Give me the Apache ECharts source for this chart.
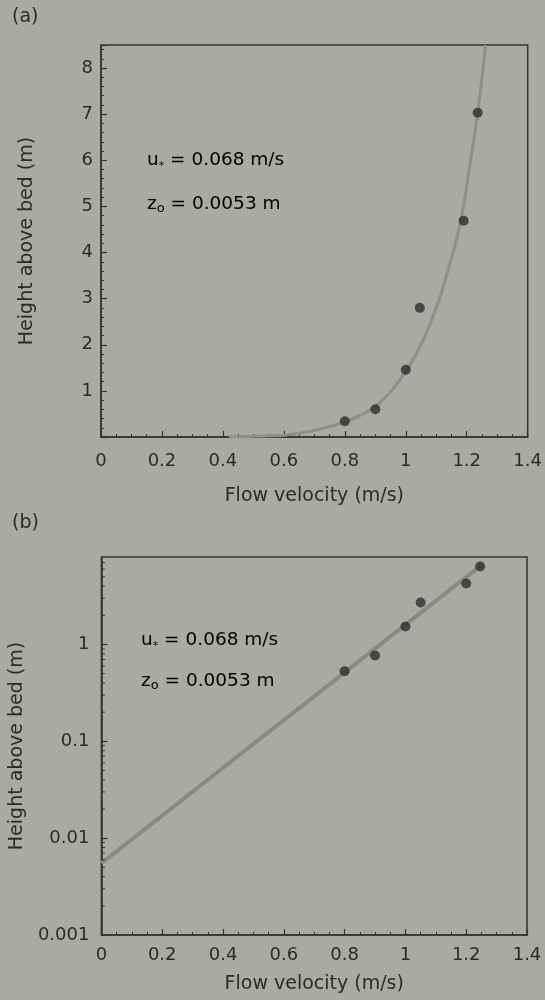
<!DOCTYPE html>
<html><head><meta charset="utf-8">
<script src="https://cdn.jsdelivr.net/npm/echarts@6/dist/echarts.min.js"></script>
<style>html,body{margin:0;padding:0;background:#a8aba4}#c{width:545px;height:1000px}</style>
</head><body><div id="c"></div>
<script>
// ---- Panel (a): linear height axis ----
const velocityA = [0.8, 0.9, 1.0, 1.046, 1.19, 1.236];
const heightA = [0.34, 0.6, 1.46, 2.8, 4.69, 7.03];
const curveVelA = [0.42, 0.5, 0.6, 0.7, 0.8, 0.85, 0.9, 0.95, 1.0, 1.05, 1.1, 1.14, 1.18, 1.21, 1.236, 1.262];
const curveHeightA = [0.0, 0.015, 0.04, 0.14, 0.33, 0.47, 0.66, 0.98, 1.42, 2.0, 2.8, 3.65, 4.67, 5.9, 7.03, 8.5];
// ---- Panel (b): log height axis ----
const velocityB = [0.8, 0.9, 1.0, 1.05, 1.2, 1.246];
const heightB = [0.53, 0.77, 1.53, 2.71, 4.26, 6.37];
const fitVelB = [0, 1.25];
const fitHeightB = [0.0055, 6.6];
const logMinorTicksB = [0.002,0.003,0.004,0.005,0.006,0.007,0.008,0.009,
  0.02,0.03,0.04,0.05,0.06,0.07,0.08,0.09,
  0.2,0.3,0.4,0.5,0.6,0.7,0.8,0.9,
  2,3,4,5,6,7];
const uStarText = '{t|u}{s|*}{t| = 0.068 m/s}';
const z0Text = '{t|z}{o|o}{t| = 0.0053 m}';

const FONT = '"DejaVu Sans", "Liberation Sans", sans-serif';
const INK = '#2b2b2b';
const AXIS = '#333333';
const pairs = (xs, ys) => xs.map((x, i) => [x, ys[i]]);

const xAxisBase = (margin, nameGap) => ({
  type: 'value', min: 0, max: 1.4, interval: 0.2,
  name: 'Flow velocity (m/s)', nameLocation: 'middle', nameGap: nameGap,
  nameTextStyle: {fontFamily: FONT, fontSize: 19, color: INK},
  axisLine: {show: true, lineStyle: {color: AXIS, width: 1.5}},
  axisTick: {show: true, inside: true, length: 6, lineStyle: {color: AXIS, width: 1.2}},
  minorTick: {show: true, splitNumber: 4, length: 3, lineStyle: {color: AXIS, width: 1}},
  axisLabel: {fontFamily: FONT, fontSize: 18, color: INK, margin: margin},
  splitLine: {show: false}
});

const rich = {
  t: {fontFamily: FONT, fontSize: 18.5, color: INK, lineHeight: 22},
  s: {fontFamily: FONT, fontSize: 11, color: INK, verticalAlign: 'bottom', lineHeight: 22},
  o: {fontFamily: FONT, fontSize: 13, color: INK, verticalAlign: 'bottom', lineHeight: 22}
};

const option = {
  backgroundColor: '#a8aba4',
  animation: false,
  grid: [
    {left: 101, top: 45, width: 427, height: 392, show: true, borderColor: AXIS, borderWidth: 1.5, backgroundColor: 'transparent'},
    {left: 99, top: 557, width: 428, height: 378, show: true, borderColor: AXIS, borderWidth: 1.5, backgroundColor: 'transparent'}
  ],
  xAxis: [
    Object.assign(xAxisBase(15, 50), {gridIndex: 0}),
    Object.assign(xAxisBase(11, 40), {gridIndex: 1})
  ],
  yAxis: [
    {
      gridIndex: 0, type: 'value', min: 0, max: 8.5, interval: 1,
      name: 'Height above bed (m)', nameLocation: 'middle', nameGap: 64,
      nameTextStyle: {fontFamily: FONT, fontSize: 19, color: INK},
      axisLine: {show: true, lineStyle: {color: AXIS, width: 1.5}},
      axisTick: {show: true, inside: true, length: 6, lineStyle: {color: AXIS, width: 1.2}},
      minorTick: {show: true, splitNumber: 5, length: 3, lineStyle: {color: AXIS, width: 1}},
      axisLabel: {fontFamily: FONT, fontSize: 18, color: INK, margin: 8, showMinLabel: false, showMaxLabel: false},
      splitLine: {show: false}
    },
    {
      gridIndex: 1, type: 'log', logBase: 10, min: 0.001, max: 8,
      name: 'Height above bed (m)', nameLocation: 'middle', nameGap: 58,
      nameTextStyle: {fontFamily: FONT, fontSize: 19, color: INK},
      axisLine: {show: true, lineStyle: {color: AXIS, width: 1.5}},
      axisTick: {show: true, inside: true, length: 6, lineStyle: {color: AXIS, width: 1.2}},
      minorTick: {show: false},
      axisLabel: {fontFamily: FONT, fontSize: 18, color: INK, margin: 12, showMaxLabel: false,
        formatter: v => String(+(+v).toPrecision(3))},
      splitLine: {show: false}
    }
  ],
  graphic: [
    {type: 'text', left: 12, top: 8, style: {text: '(a)', fontFamily: FONT, fontSize: 19, fill: INK}},
    {type: 'text', left: 12, top: 514, style: {text: '(b)', fontFamily: FONT, fontSize: 19, fill: INK}},
    {type: 'text', left: 147, top: 151, style: {text: uStarText, rich: rich}},
    {type: 'text', left: 147, top: 195, style: {text: z0Text, rich: rich}},
    {type: 'text', left: 141, top: 631, style: {text: uStarText, rich: rich}},
    {type: 'text', left: 141, top: 672, style: {text: z0Text, rich: rich}}
  ],
  series: [
    {
      type: 'line', xAxisIndex: 0, yAxisIndex: 0, data: pairs(curveVelA, curveHeightA),
      showSymbol: false, smooth: 0.5, clip: false,
      lineStyle: {color: '#8d8f8a', width: 3}, z: 2
    },
    {
      type: 'scatter', xAxisIndex: 0, yAxisIndex: 0, data: pairs(velocityA, heightA),
      symbolSize: 10, itemStyle: {color: '#2e2e2e'}, z: 3
    },
    {
      type: 'line', xAxisIndex: 1, yAxisIndex: 1, data: pairs(fitVelB, fitHeightB),
      showSymbol: false, clip: false,
      lineStyle: {color: '#878984', width: 4}, z: 2
    },
    {
      type: 'scatter', xAxisIndex: 1, yAxisIndex: 1, data: pairs(velocityB, heightB),
      symbolSize: 10, itemStyle: {color: '#2e2e2e'}, z: 3
    },
    {
      type: 'custom', xAxisIndex: 1, yAxisIndex: 1, silent: true, clip: false,
      data: logMinorTicksB.map(v => [0, v]),
      renderItem: (params, api) => {
        const p = api.coord([api.value(0), api.value(1)]);
        return {type: 'line', shape: {x1: p[0], y1: p[1], x2: p[0] + 3.5, y2: p[1]},
          style: {stroke: AXIS, lineWidth: 1}};
      },
      z: 4
    }
  ]
};
echarts.init(document.getElementById('c'), null, {renderer: 'canvas'}).setOption(option);
</script>
</body></html>
